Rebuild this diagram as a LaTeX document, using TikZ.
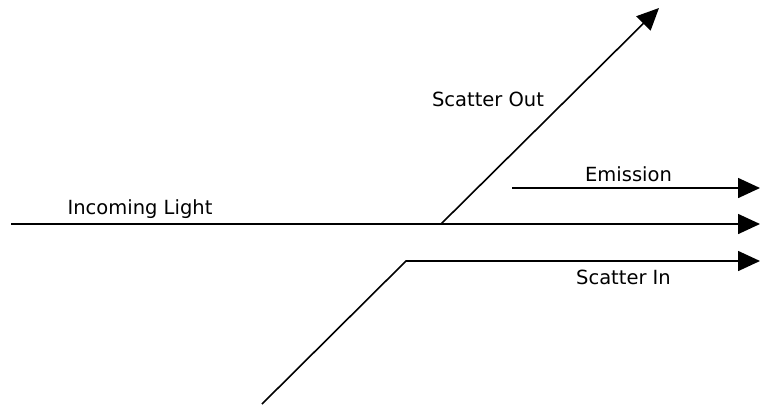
\documentclass[tikz,border=0pt]{standalone}
\usepackage{fontspec}
\setmainfont{DejaVu Sans}
\usetikzlibrary{arrows.meta}
\begin{document}
\begin{tikzpicture}[x=1pt,y=-1pt,
  ray/.style={line width=1.6pt, line join=miter},
  rayarrow/.style={ray, -{Triangle[length=22pt,width=20pt]}},
  lbl/.style={font=\fontsize{19.5}{22}\selectfont, anchor=base, inner sep=0pt}]
  \useasboundingbox (0,0) rectangle (760,408);
  % end points of the rays
  \coordinate (inStart) at (11,224);
  \coordinate (inEnd) at (760,224);
  \coordinate (scatterPt) at (441,224);
  \coordinate (outEnd) at (659,8);
  \coordinate (emStart) at (512,188);
  \coordinate (emEnd) at (760,188);
  \coordinate (siStart) at (262,404);
  \coordinate (siBend) at (406,261);
  \coordinate (siEnd) at (760,261);
  % rays
  \draw[rayarrow] (inStart) -- (inEnd);
  \draw[rayarrow] (scatterPt) -- (outEnd);
  \draw[rayarrow] (emStart) -- (emEnd);
  \draw[rayarrow] (siStart) -- (siBend) -- (siEnd);
  % labels
  \node[lbl] (lIn) at (140,214) {Incoming Light};
  \node[lbl] (lOut) at (488,106) {Scatter Out};
  \node[lbl] (lEm) at (628.5,181) {Emission};
  \node[lbl] (lSi) at (623.5,284) {Scatter In};
\end{tikzpicture}
\end{document}
